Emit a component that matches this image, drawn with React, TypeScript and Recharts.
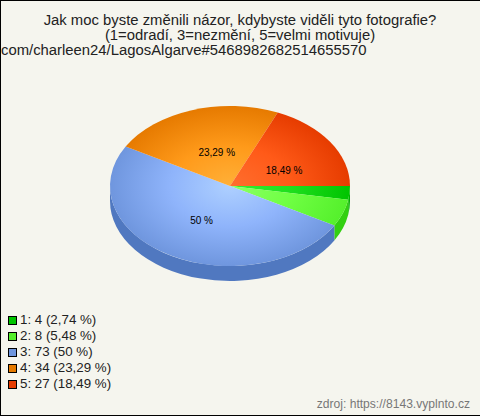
import React from 'react';
import { PieChart, Pie, Legend } from 'recharts';

const WIDTH = 480;
const HEIGHT = 416;
const CX = 230;
const CY = 186;
const RX = 120;
const RY = 80;
const DEPTH = 15;

const labels = ['1', '2', '3', '4', '5'];
const counts = [4, 8, 73, 34, 27];
const percents = ['2,74', '5,48', '50', '23,29', '18,49'];
const edgeColors = ['#00c400', '#55f02c', '#6f96de', '#e67a00', '#e63c00'];
const midColors = ['#1fdf1f', '#70ff44', '#8fb4fb', '#ff9a1a', '#ff5a18'];
const centerColors = ['#33f033', '#8cff66', '#aed0ff', '#ffb038', '#ff6e2e'];
const sideColors = ['#00b000', '#33d011', '#5078c0', '#b86000', '#b83000'];
const labelNudge = [[0, 0], [0, 0], [0, 1], [5, 3], [6, 6]];

const data = labels.map((name, i) => ({ name, value: counts[i], percent: percents[i] }));

const pt = (deg: number, dy = 0) => {
  const a = (deg * Math.PI) / 180;
  return [CX + RX * Math.cos(a), CY + RY * Math.sin(a) + dy];
};

// top face, the circular sector squashed to an ellipse
const TopSlice = (props: any) => {
  const a1 = -props.startAngle;
  const a2 = -props.endAngle;
  const [x1, y1] = pt(a1);
  const [x2, y2] = pt(a2);
  const large = a2 - a1 > 180 ? 1 : 0;
  return (
    <path
      d={`M${CX},${CY} L${x1},${y1} A${RX},${RY} 0 ${large} 1 ${x2},${y2} Z`}
      fill={`url(#slice${props.index})`}
    />
  );
};

// visible outer wall, only the front half of the ellipse
const SideSlice = (props: any) => {
  const a1 = Math.max(-props.startAngle, 0);
  const a2 = Math.min(-props.endAngle, 180);
  if (a2 <= a1) return <g />;
  const [x1, y1] = pt(a1);
  const [x2, y2] = pt(a2);
  const [x3, y3] = pt(a2, DEPTH);
  const [x4, y4] = pt(a1, DEPTH);
  return (
    <path
      d={`M${x1},${y1} A${RX},${RY} 0 0 1 ${x2},${y2} L${x3},${y3} A${RX},${RY} 0 0 0 ${x4},${y4} Z`}
      fill={sideColors[props.index]}
    />
  );
};

const renderLabel = (props: any) => {
  if (props.index < 2) return null;
  const mid = -(props.startAngle + props.endAngle) / 2;
  const [x, y] = pt(mid);
  const [nx, ny] = labelNudge[props.index];
  return (
    <text
      x={CX + (x - CX) * 0.48 + nx}
      y={CY + (y - CY) * 0.48 + ny}
      textAnchor="middle"
      dominantBaseline="central"
      fontSize={10}
      fontFamily="Liberation Sans"
      fill="#000"
    >
      {`${props.payload.percent} %`}
    </text>
  );
};

const LegendBox = () => (
  <div style={{ fontFamily: 'Liberation Sans', fontSize: 13.33, color: '#222' }}>
    {data.map((d, i) => (
      <div key={d.name} style={{ height: 16, lineHeight: '16px', whiteSpace: 'nowrap', display: 'flex', alignItems: 'center' }}>
        <span style={{ width: 7, height: 7, border: '1px solid #000', background: edgeColors[i], marginRight: 3 }} />
        {`${d.name}: ${d.value} (${d.percent} %)`}
      </div>
    ))}
  </div>
);

const App = () => (
  <div style={{ position: 'absolute', left: 0, top: 0, width: WIDTH, height: HEIGHT, boxSizing: 'border-box', borderTop: '1px solid #000', borderLeft: '1px solid #000', borderBottom: '1px solid #000', background: '#f5f5ee', overflow: 'hidden' }}>
    <div style={{ position: 'absolute', left: -1, top: -1 }}>
      <PieChart width={WIDTH} height={HEIGHT} margin={{ top: 0, right: 0, bottom: 0, left: 0 }}>
        <defs>
          {labels.map((_, i) => (
            <radialGradient
              key={i}
              id={`slice${i}`}
              gradientUnits="userSpaceOnUse"
              cx={0}
              cy={0}
              r={1}
              gradientTransform={`translate(${CX},${CY}) scale(${RX},${RY})`}
            >
              <stop offset="0%" stopColor={centerColors[i]} />
              <stop offset="50%" stopColor={midColors[i]} />
              <stop offset="100%" stopColor={edgeColors[i]} />
            </radialGradient>
          ))}
        </defs>
        <text x={240} y={25} textAnchor="middle" fontSize={14.85} fontFamily="Liberation Sans" fill="#222">
          Jak moc byste změnili názor, kdybyste viděli tyto fotografie?
        </text>
        <text x={240} y={40} textAnchor="middle" fontSize={14.85} fontFamily="Liberation Sans" fill="#222">
          (1=odradí, 3=nezmění, 5=velmi motivuje)
        </text>
        <text x={1} y={55} fontSize={14.85} fontFamily="Liberation Sans" fill="#222">
          com/charleen24/LagosAlgarve#5468982682514655570
        </text>
        <Pie
          data={data}
          dataKey="value"
          cx={CX}
          cy={CY}
          outerRadius={RX}
          startAngle={0}
          endAngle={-360}
          stroke="none"
          shape={SideSlice}
          isAnimationActive={false}
        />
        <Pie
          data={data}
          dataKey="value"
          cx={CX}
          cy={CY}
          outerRadius={RX}
          startAngle={0}
          endAngle={-360}
          stroke="none"
          shape={TopSlice}
          label={renderLabel}
          labelLine={false}
          isAnimationActive={false}
        />
        <Legend
          content={<LegendBox />}
          layout="vertical"
          wrapperStyle={{ position: 'absolute', left: 8, top: 312, width: 160, height: 84 }}
        />
        <text x={470} y={408} textAnchor="end" fontSize={12.1} fontFamily="Liberation Sans" fill="#777">
          zdroj: https://8143.vyplnto.cz
        </text>
      </PieChart>
    </div>
  </div>
);

export default App;
